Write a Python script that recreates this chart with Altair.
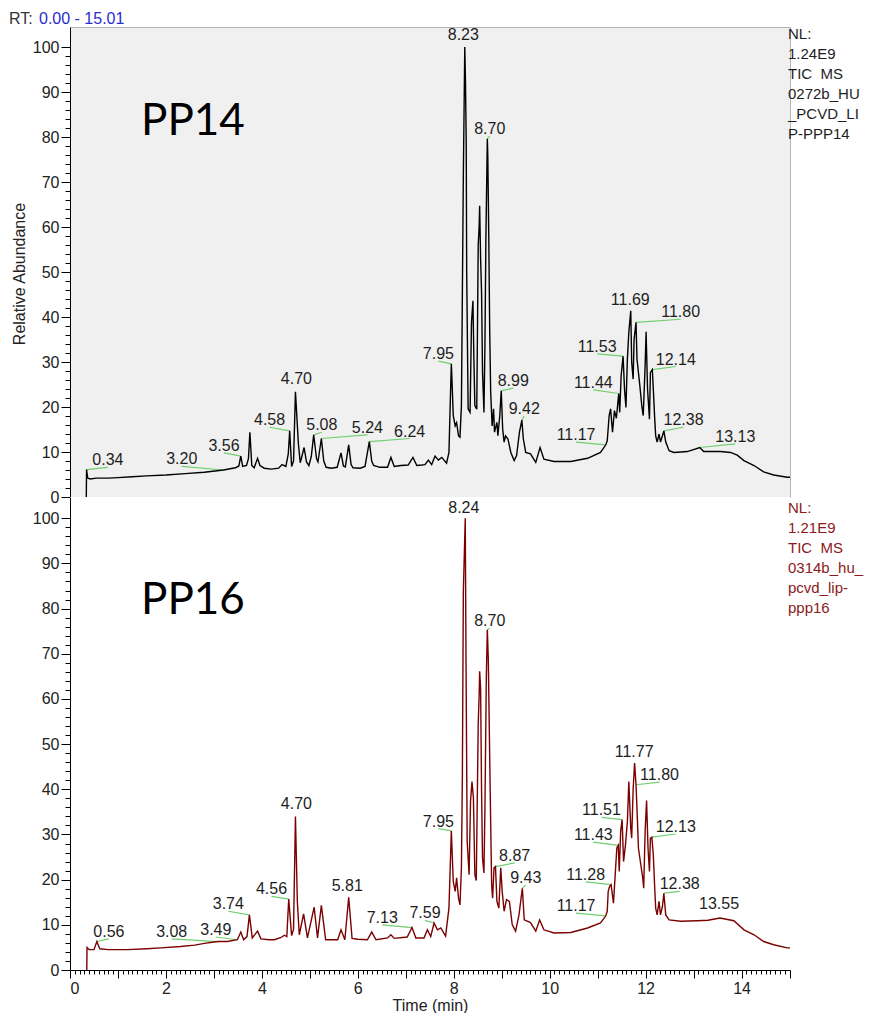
import altair as alt
import pandas as pd

X_MAX = 15.01
FONT = "Liberation Sans"

# ---------------- PP14 (top) trace ----------------
top_t = [0.34, 0.345, 0.37, 0.42, 0.55, 0.8, 1.0, 1.3, 1.6, 2.0, 2.4, 2.8, 3.2, 3.45, 3.52, 3.56, 3.60,
         3.68, 3.72, 3.75, 3.79, 3.84, 3.91, 3.96, 4.05, 4.2, 4.35, 4.42, 4.50, 4.55, 4.58, 4.62, 4.66,
         4.70, 4.76, 4.80, 4.88, 4.93, 4.98, 5.03, 5.08, 5.14, 5.17, 5.24, 5.29, 5.34, 5.45, 5.57, 5.65,
         5.70, 5.74, 5.81, 5.86, 5.90, 6.05, 6.15, 6.24, 6.29, 6.33, 6.46, 6.62, 6.69, 6.76, 6.90, 7.05,
         7.15, 7.23, 7.33, 7.40, 7.47, 7.54, 7.61, 7.68, 7.75, 7.85, 7.90, 7.93, 7.95, 7.97, 7.99, 8.03,
         8.06, 8.10, 8.13, 8.16, 8.18, 8.20, 8.23, 8.245, 8.26, 8.27, 8.30, 8.34, 8.37, 8.40, 8.42, 8.44,
         8.48, 8.51, 8.53, 8.54, 8.56, 8.58, 8.60, 8.63, 8.65, 8.67, 8.70, 8.71, 8.73, 8.75, 8.77, 8.80,
         8.83, 8.85, 8.90, 8.92, 8.96, 8.99, 9.02, 9.05, 9.08, 9.13, 9.19, 9.26, 9.31, 9.37, 9.42, 9.45,
         9.50, 9.60, 9.71, 9.80, 9.88, 10.09, 10.44, 10.79, 11.06, 11.17, 11.20, 11.24, 11.27, 11.31,
         11.35, 11.39, 11.44, 11.46, 11.49, 11.53, 11.56, 11.59, 11.62, 11.65, 11.69, 11.71, 11.74, 11.76,
         11.80, 11.82, 11.85, 11.88, 11.92, 11.95, 11.99, 12.01, 12.04, 12.08, 12.10, 12.14, 12.16, 12.19,
         12.21, 12.24, 12.28, 12.31, 12.35, 12.38, 12.42, 12.49, 12.59, 12.87, 13.13, 13.21, 13.56, 13.77,
         13.91, 14.05, 14.26, 14.46, 14.67, 14.95, 15.01]
top_v = [0.0, 6.1, 4.2, 4.0, 4.2, 4.2, 4.3, 4.5, 4.7, 4.9, 5.2, 5.5, 6.0, 6.5, 6.9, 9.1, 6.8,
         7.0, 8.5, 14.4, 7.0, 6.5, 8.6, 7.0, 6.4, 6.2, 6.4, 7.2, 6.8, 9.5, 14.7, 6.8, 8.0,
         23.4, 12.0, 7.6, 11.0, 7.8, 7.0, 9.0, 13.8, 8.5, 7.8, 13.0, 8.0, 6.6, 6.4, 6.6, 9.8,
         6.9, 6.7, 11.6, 7.2, 6.5, 6.4, 6.8, 12.3, 8.0, 7.0, 6.6, 6.6, 8.8, 6.8, 7.0, 7.1,
         8.8, 7.0, 7.1, 7.2, 8.2, 7.2, 9.1, 8.2, 8.8, 7.5, 9.9, 22.0, 29.6, 24.0, 18.1, 15.8,
         16.5, 13.6, 13.3, 20.3, 45.5, 71.4, 100.0, 92.0, 78.8, 49.9, 19.6, 18.8, 38.8, 43.6, 30.7, 20.3,
         19.5, 55.9, 60.3, 64.7, 52.9, 45.5, 27.7, 18.8, 33.6, 57.3, 79.6, 75.9, 58.1, 36.6, 23.3, 15.8,
         19.6, 14.4, 16.6, 13.6, 18.1, 23.6, 15.1, 12.2, 13.6, 12.9, 9.9, 8.1, 9.2, 14.4, 17.1, 13.0,
         9.9, 9.6, 7.7, 11.0, 8.4, 7.9, 7.9, 8.6, 9.9, 11.6, 12.5, 18.1, 19.6, 14.4,
         19.2, 17.5, 23.0, 18.8, 27.0, 31.3, 24.0, 19.9, 30.7, 36.6, 41.4, 29.9, 26.2, 35.1,
         38.8, 30.7, 27.7, 24.7, 20.3, 18.1, 29.2, 36.7, 24.0, 17.3, 27.7, 28.3, 24.0, 17.3,
         13.6, 12.2, 14.0, 12.2, 13.6, 14.7, 12.2, 10.3, 9.9, 10.1, 11.0, 10.1, 10.1, 9.9,
         9.3, 8.1, 7.0, 5.6, 4.9, 4.4, 4.4]

top_lbl = ["0.34", "3.20", "3.56", "4.58", "4.70", "5.08", "5.24", "6.24", "7.95", "8.23", "8.70",
           "8.99", "9.42", "11.17", "11.44", "11.53", "11.69", "11.80", "12.14", "12.38", "13.13"]
top_lbl_x = [0.79, 2.33, 3.21, 4.16, 4.72, 5.25, 6.20, 7.08, 7.68, 8.20, 8.75,
             9.24, 9.47, 10.55, 10.91, 10.99, 11.68, 12.73, 12.63, 12.79, 13.87]
top_lbl_y = [6.6, 6.8, 9.8, 15.5, 24.7, 14.4, 13.8, 13.0, 30.2, 101.1, 80.2,
             24.2, 18.0, 12.2, 23.8, 31.8, 42.2, 39.5, 29.0, 15.5, 11.8]
top_peak_y = [6.1, 6.0, 9.1, 14.7, 23.4, 13.8, 13.0, 12.3, 29.6, 100.0, 79.6,
              23.6, 17.1, 11.6, 23.0, 31.3, 41.4, 38.8, 28.3, 14.7, 11.0]

# ---------------- PP16 (bottom) trace ----------------
bot_t = [0.35, 0.355, 0.40, 0.50, 0.56, 0.62, 0.8, 1.2, 1.6, 1.9, 2.3, 2.6, 2.8, 3.08, 3.28, 3.49,
         3.56, 3.62, 3.69, 3.74, 3.80, 3.91, 3.98, 4.15, 4.26, 4.40, 4.47, 4.52, 4.56, 4.62, 4.66,
         4.70, 4.74, 4.78, 4.87, 4.95, 5.09, 5.16, 5.24, 5.33, 5.58, 5.65, 5.73, 5.81, 5.88, 6.0,
         6.20, 6.29, 6.38, 6.62, 6.69, 6.76, 7.03, 7.13, 7.21, 7.38, 7.45, 7.52, 7.59, 7.66, 7.73,
         7.83, 7.90, 7.95, 7.99, 8.03, 8.06, 8.10, 8.13, 8.16, 8.18, 8.20, 8.24, 8.255, 8.28, 8.32,
         8.35, 8.38, 8.41, 8.44, 8.47, 8.51, 8.53, 8.54, 8.56, 8.58, 8.60, 8.63, 8.65, 8.68, 8.70,
         8.72, 8.74, 8.76, 8.79, 8.81, 8.84, 8.87, 8.90, 8.94, 8.98, 9.01, 9.05, 9.10, 9.16, 9.22,
         9.29, 9.36, 9.43, 9.47, 9.60, 9.71, 9.79, 9.88, 10.09, 10.44, 10.79, 11.06, 11.17, 11.20,
         11.22, 11.25, 11.28, 11.33, 11.37, 11.40, 11.43, 11.45, 11.48, 11.51, 11.54, 11.58, 11.62,
         11.65, 11.69, 11.71, 11.74, 11.77, 11.80, 11.83, 11.85, 11.90, 11.94, 11.96, 11.99, 12.02,
         12.05, 12.08, 12.10, 12.13, 12.16, 12.19, 12.21, 12.24, 12.28, 12.31, 12.35, 12.38, 12.42,
         12.49, 12.73, 13.08, 13.30, 13.55, 13.84, 14.05, 14.26, 14.46, 14.67, 14.95, 15.01]
bot_v = [0.0, 5.0, 4.5, 4.5, 6.3, 4.7, 4.5, 4.5, 4.7, 4.9, 5.2, 5.5, 5.9, 6.3, 6.3, 6.7,
         8.4, 6.7, 7.4, 12.2, 7.1, 8.6, 6.9, 6.7, 6.7, 7.2, 7.7, 7.4, 15.7, 7.6, 9.0,
         34.0, 15.0, 7.8, 12.4, 7.1, 13.9, 7.1, 14.3, 6.7, 6.7, 8.9, 6.7, 16.1, 7.0, 6.8,
         6.7, 8.4, 6.7, 7.1, 7.8, 7.0, 7.3, 9.4, 7.1, 7.1, 8.9, 7.4, 10.4, 8.9, 9.3,
         7.5, 13.7, 30.8, 19.6, 17.4, 20.4, 15.9, 14.4, 22.6, 43.2, 83.8, 100.0, 70.0, 28.5, 21.1,
         37.3, 41.7, 38.1, 21.1, 19.8, 54.3, 60.9, 66.1, 62.4, 39.5, 24.8, 21.5, 35.8, 65.3, 75.3,
         69.0, 54.3, 39.5, 18.9, 15.9, 22.6, 22.9, 15.2, 13.7, 22.6, 17.4, 13.0, 15.6, 15.2, 10.0,
         8.6, 12.2, 18.1, 11.1, 10.5, 8.6, 11.1, 8.9, 8.2, 8.3, 9.3, 10.4, 12.0, 13.0,
         17.4, 18.5, 18.9, 14.8, 21.8, 27.0, 27.6, 21.8, 30.7, 33.3, 24.0, 27.7, 32.9,
         41.7, 31.4, 29.2, 40.0, 45.8, 41.0, 32.9, 27.0, 23.3, 20.4, 18.1, 30.7, 37.5,
         27.0, 21.8, 29.2, 29.4, 25.5, 18.1, 13.7, 12.2, 15.2, 12.2, 14.0, 17.0, 12.2,
         11.1, 10.8, 10.9, 11.0, 11.5, 10.9, 8.9, 7.8, 6.3, 5.6, 4.9, 4.9]

bot_lbl = ["0.56", "3.08", "3.49", "3.74", "4.56", "4.70", "5.81", "7.13", "7.59", "7.95", "8.24",
           "8.70", "8.87", "9.43", "11.17", "11.28", "11.43", "11.51", "11.77", "11.80", "12.13",
           "12.38", "13.55"]
bot_lbl_x = [0.81, 2.12, 3.04, 3.30, 4.20, 4.72, 5.78, 6.51, 7.40, 7.68, 8.21,
             8.75, 9.27, 9.50, 10.55, 10.75, 10.91, 11.08, 11.76, 12.29, 12.63,
             12.71, 13.53]
bot_lbl_y = [6.9, 6.9, 7.3, 13.0, 16.3, 35.3, 17.0, 10.0, 11.0, 31.3, 100.7,
             75.7, 23.7, 18.8, 12.6, 19.5, 28.3, 33.8, 46.7, 41.6, 30.1,
             17.4, 13.0]
bot_peak_y = [6.3, 6.3, 6.7, 12.2, 15.7, 34.0, 16.1, 9.4, 10.4, 30.8, 100.0,
              75.3, 22.9, 18.1, 12.0, 18.9, 27.6, 33.3, 45.8, 41.0, 29.4,
              17.0, 11.5]

top_info = ["NL:", "1.24E9", "TIC\u00a0\u00a0MS", "0272b_HU", "_PCVD_LI", "P-PPP14"]
bot_info = ["NL:", "1.21E9", "TIC\u00a0\u00a0MS", "0314b_hu_", "pcvd_lip-", "ppp16"]

y_ticks = list(range(0, 101, 2))
x_ticks = [round(i * 0.1, 1) for i in range(0, 151)]


def panel(t, v, lbl, lx, ly, py, color, info_color, ymax, height, name, name_pos, info, info_y, bottom):
    trace = pd.DataFrame({"t": t, "v": v})
    labels = pd.DataFrame({"label": lbl, "lx": lx, "ly": ly,
                           "rt": [float(s) for s in lbl], "py": py})
    leaders = labels[(labels["lx"] - labels["rt"]).abs() > 0.04]

    xs = alt.Scale(domain=[0, X_MAX], nice=False, zero=False)
    ys = alt.Scale(domain=[0, ymax], nice=False, zero=False)
    if bottom:
        xaxis = alt.Axis(values=x_ticks, title="Time (min)",
                         labelExpr="abs(datum.value/2 - round(datum.value/2)) < 0.001 ? '' + round(datum.value) : ''",
                         tickSize={"condition": {"test": "abs(datum.value - round(datum.value)) < 0.001", "value": 8},
                                   "value": 4},
                         labelOverlap=False, grid=False, domainColor="black", tickColor="black",
                         labelColor="#222222", labelFontSize=16, labelPadding=2, titleFontSize=16,
                         titleColor="#222222", titlePadding=1, titleFontWeight="normal")
    else:
        xaxis = None
    yaxis = alt.Axis(values=y_ticks, title=None,
                     labelExpr="datum.value % 10 === 0 ? datum.label : ''",
                     tickSize={"condition": {"test": "datum.value % 10 === 0", "value": 9}, "value": 5},
                     labelOverlap=False, grid=False, domainColor="black", tickColor="black",
                     labelColor="#222222", labelFontSize=16, labelPadding=2)

    X = lambda f: alt.X(f, type="quantitative", scale=xs, axis=xaxis)
    Y = lambda f: alt.Y(f, type="quantitative", scale=ys, axis=yaxis)

    lead = alt.Chart(leaders).mark_rule(color="#6fcf6f", strokeWidth=1.2).encode(
        x=X("lx"), y=Y("ly"), x2="rt", y2="py")
    line = alt.Chart(trace).mark_line(color=color, strokeWidth=1.4).encode(
        x=X("t"), y=Y("v"), order="t:Q")
    txt = alt.Chart(labels).mark_text(font=FONT, fontSize=16, color="#1e1e1e", align="center",
                                      baseline="alphabetic", dy=-2).encode(
        x=X("lx"), y=Y("ly"), text="label:N")
    nm = alt.Chart(pd.DataFrame({"n": [name], "x": [name_pos[0]], "y": [name_pos[1]]})).mark_text(
        font="Lato", fontSize=44, color="black", align="left", baseline="alphabetic").encode(
        x=X("x"), y=Y("y"), text="n:N")
    inf = alt.Chart(pd.DataFrame({"k": [0]})).mark_text(
        text=info, font=FONT, fontSize=15, color=info_color, align="left",
        baseline="alphabetic", lineHeight=20).encode(x=alt.value(718), y=alt.value(info_y))
    layers = [lead, line, txt, nm, inf]
    if not bottom:
        rt1 = alt.Chart(pd.DataFrame({"k": [0]})).mark_text(
            text="RT:", font=FONT, fontSize=16, color="#333333", align="left", baseline="alphabetic"
        ).encode(x=alt.value(-61), y=alt.value(-3))
        rt2 = alt.Chart(pd.DataFrame({"k": [0]})).mark_text(
            text="0.00 - 15.01", font=FONT, fontSize=16, color="#2b2bd0", align="left",
            baseline="alphabetic").encode(x=alt.value(-31), y=alt.value(-3))
        ytitle = alt.Chart(pd.DataFrame({"k": [0]})).mark_text(
            text="Relative Abundance", font=FONT, fontSize=16, color="#222222", angle=270,
            align="center", baseline="middle").encode(x=alt.value(-50), y=alt.value(247))
        layers += [rt1, rt2, ytitle]
        view = alt.ViewBackground(fill="#f0f0f0", stroke="#b4b4b4", strokeWidth=1)
    else:
        view = alt.ViewBackground(fill="white", strokeWidth=0)
    return alt.layer(*layers).properties(width=720, height=height, view=view)


top = panel(top_t, top_v, top_lbl, top_lbl_x, top_lbl_y, top_peak_y, "black", "#1e1e1e",
            104.45, 470, "PP14", (1.48, 80.4), top_info, 12, False)
bot = panel(bot_t, bot_v, bot_lbl, bot_lbl_x, bot_lbl_y, bot_peak_y, "#7b0000", "#8b1a1a",
            104.7, 473, "PP16", (1.48, 78.8), bot_info, 16, True)

chart = alt.vconcat(top, bot, spacing=0, bounds="flush").properties(
    padding={"left": 0, "top": 2, "right": 0, "bottom": 0}
).configure_view(strokeWidth=0).configure_axis(labelFont=FONT, titleFont=FONT)

chart.save("out.html", embed_options={"renderer": "svg", "actions": False})
